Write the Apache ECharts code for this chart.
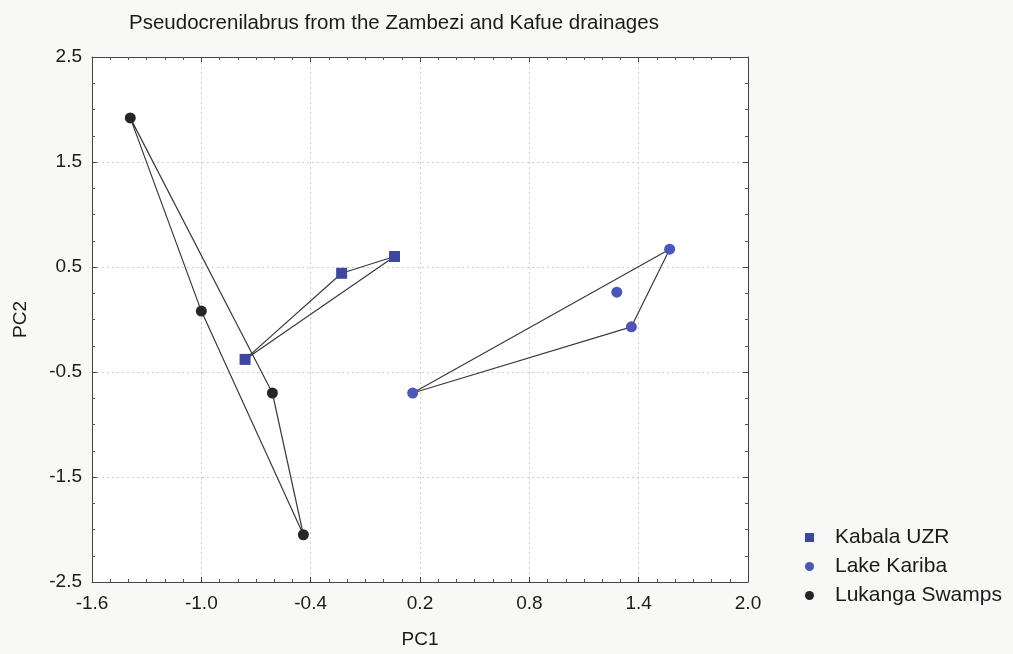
<!DOCTYPE html>
<html>
<head>
<meta charset="utf-8">
<script src="https://cdn.jsdelivr.net/npm/echarts@6/dist/echarts.min.js"></script>
<style>
  html, body { margin: 0; padding: 0; background: #f8f8f7; }
  #chart { width: 1013px; height: 654px; }
</style>
</head>
<body>
<div id="chart"></div>
<script>
// PC1 / PC2 scores
const kabala = [[-0.76, -0.38], [-0.23, 0.44], [0.06, 0.60]]
const kariba = [[0.16, -0.70], [1.28, 0.26], [1.36, -0.07], [1.57, 0.67]]
const lukanga = [[-1.39, 1.92], [-1.0, 0.08], [-0.61, -0.70], [-0.44, -2.05]]

// hull outlines, as indexes into the arrays above
const kabalaHull = [0, 1, 2, 0]
const karibaHull = [0, 2, 3, 0]
const lukangaHull = [0, 1, 3, 2, 0]

const seriesNames = ['Kabala UZR', 'Lake Kariba', 'Lukanga Swamps']
const colorList = ['#3d479f', '#4b56b8', '#262626']

const font = 'Liberation Sans, Arial, sans-serif'

const hullLine = (pts, idx) => ({
  type: 'line',
  data: idx.map((i) => pts[i]),
  symbol: 'none',
  silent: true,
  z: 1,
  lineStyle: { color: '#3a3a3a', width: 1.2 },
  itemStyle: { color: '#3a3a3a' }
})

const frameAxis = (extra) =>
  Object.assign(
    {
      type: 'value',
      axisLine: { show: true, onZero: false, lineStyle: { color: '#444', width: 1 } },
      axisTick: { show: true, inside: true, length: 5, lineStyle: { color: '#444' } },
      minorTick: { show: true, length: 3, lineStyle: { color: '#555' } },
      axisLabel: { show: false },
      splitLine: { show: false }
    },
    extra
  )

const myChart = echarts.init(document.getElementById('chart'))

myChart.setOption({
  backgroundColor: '#f8f8f7',
  animation: false,
  title: {
    text: 'Pseudocrenilabrus from the Zambezi and Kafue drainages',
    left: 124,
    top: 8,
    textStyle: { fontFamily: font, fontSize: 20.5, fontWeight: 'normal', color: '#1a1a1a' }
  },
  legend: {
    data: seriesNames.map((n, i) => ({ name: n, icon: i === 0 ? 'rect' : 'circle' })),
    orient: 'vertical',
    left: 805,
    top: 527,
    padding: 0,
    itemWidth: 9,
    itemHeight: 9,
    itemGap: 8,
    textStyle: { fontFamily: font, fontSize: 21, lineHeight: 21, color: '#1a1a1a', padding: [0, 0, 0, 16] }
  },
  grid: { left: 92, right: 265, top: 57, bottom: 71, backgroundColor: '#fff', show: true, borderWidth: 0 },
  xAxis: [
    frameAxis({
      min: -1.6,
      max: 2.0,
      interval: 0.6,
      position: 'bottom',
      name: 'PC1',
      nameLocation: 'middle',
      nameGap: 48,
      nameTextStyle: { fontFamily: font, fontSize: 19, color: '#1a1a1a' },
      minorTick: { show: true, splitNumber: 6, length: 3, lineStyle: { color: '#555' } },
      axisLabel: {
        show: true,
        margin: 12,
        fontFamily: font,
        fontSize: 19,
        color: '#1a1a1a',
        formatter: (v) => v.toFixed(1)
      },
      splitLine: { show: true, lineStyle: { color: '#c9cde0', type: [2, 3], width: 1 } }
    }),
    frameAxis({
      min: -1.6,
      max: 2.0,
      interval: 0.6,
      position: 'top',
      minorTick: { show: true, splitNumber: 6, length: 3, lineStyle: { color: '#555' } }
    })
  ],
  yAxis: [
    frameAxis({
      min: -2.5,
      max: 2.5,
      interval: 1,
      position: 'left',
      name: 'PC2',
      nameLocation: 'middle',
      nameGap: 62,
      nameRotate: 90,
      nameTextStyle: { fontFamily: font, fontSize: 19, color: '#1a1a1a' },
      minorTick: { show: true, splitNumber: 4, length: 3, lineStyle: { color: '#555' } },
      axisLabel: {
        show: true,
        margin: 10,
        fontFamily: font,
        fontSize: 19,
        color: '#1a1a1a',
        formatter: (v) => v.toFixed(1)
      },
      splitLine: { show: true, lineStyle: { color: '#c9cde0', type: [2, 3], width: 1 } }
    }),
    frameAxis({
      min: -2.5,
      max: 2.5,
      interval: 1,
      position: 'right',
      minorTick: { show: true, splitNumber: 4, length: 3, lineStyle: { color: '#555' } }
    })
  ],
  series: [
    hullLine(kabala, kabalaHull),
    hullLine(kariba, karibaHull),
    hullLine(lukanga, lukangaHull),
    {
      name: seriesNames[0],
      type: 'scatter',
      data: kabala,
      symbol: 'rect',
      symbolSize: 11,
      z: 3,
      itemStyle: { color: colorList[0], opacity: 1 }
    },
    {
      name: seriesNames[1],
      type: 'scatter',
      data: kariba,
      symbol: 'circle',
      symbolSize: 11,
      z: 3,
      itemStyle: { color: colorList[1], opacity: 1 }
    },
    {
      name: seriesNames[2],
      type: 'scatter',
      data: lukanga,
      symbol: 'circle',
      symbolSize: 11,
      z: 3,
      itemStyle: { color: colorList[2], opacity: 1 }
    }
  ]
})
</script>
</body>
</html>
